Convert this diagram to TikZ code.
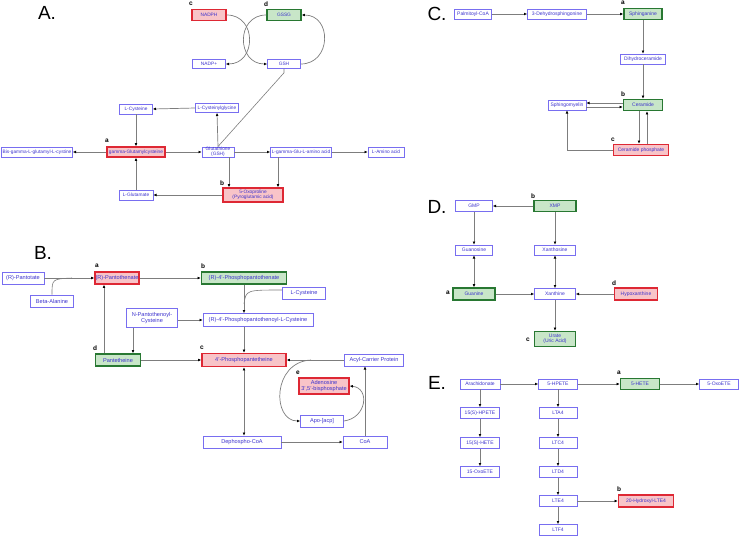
\documentclass[tikz,border=0pt]{standalone}
\usepackage{fontspec}
\setmainfont{Liberation Sans}
\usepackage{tikz}
\usetikzlibrary{arrows.meta,positioning}

\definecolor{boxblue}{RGB}{120,110,240}
\definecolor{txtblue}{RGB}{60,50,205}
\definecolor{boxred}{RGB}{222,40,52}
\definecolor{fillred}{RGB}{248,196,200}
\definecolor{boxgreen}{RGB}{40,120,50}
\definecolor{fillgreen}{RGB}{200,230,200}
\definecolor{linegray}{RGB}{125,125,125}

\begin{document}
\begin{tikzpicture}[x=1pt, y=-1pt, >=stealth,
  met/.style={draw=boxblue, text=txtblue, line width=0.6pt, inner sep=0.5pt,
    align=center, minimum height=10pt, font=\fontsize{5}{5.2}\selectfont},
  hired/.style={met, draw=boxred, fill=fillred, line width=1.4pt},
  higreen/.style={met, draw=boxgreen, fill=fillgreen, line width=1.4pt},
  flow/.style={draw=linegray, line width=0.7pt,
    -{Latex[length=3.2pt, width=2.8pt, color=black]}},
  both/.style={flow, {Latex[length=3.2pt, width=2.8pt, color=black]}-{Latex[length=3.2pt, width=2.8pt, color=black]}},
  link/.style={draw=linegray, line width=0.6pt},
  tag/.style={font=\bfseries\fontsize{6.5}{7}\selectfont, inner sep=0pt},
  panel/.style={font=\fontsize{19}{19}\selectfont, inner sep=0pt}]
  \useasboundingbox (0,0) rectangle (740,536);

  % Panel A: glutathione
  \begin{scope}[met/.append style={font=\fontsize{4.8}{4.9}\selectfont}]
  \node[panel] (labA) at (47,13) {A.};
  \node[hired, minimum width=34pt, minimum height=11pt] (nadph) at (209,15) {NADPH};
  \node[tag] (tagAc) at (191,4) {c};
  \node[higreen, minimum width=34pt, minimum height=11pt] (gssg) at (284,15) {GSSG};
  \node[tag] (tagAd) at (266,4) {d};
  \node[met, minimum width=33pt, minimum height=9pt] (nadpp) at (209,64) {NADP+};
  \node[met, minimum width=33pt, minimum height=9pt] (gshA) at (284,64) {GSH};
  \node[met, minimum width=43pt, minimum height=9pt] (cysgly) at (217,108) {L-Cysteinylglycine};
  \node[met, minimum width=33pt] (cysA) at (136,109) {L-Cysteine};
  \node[hired, minimum width=58pt] (gglucys) at (136,152) {gamma-Glutamylcysteine};
  \node[tag] (tagAa) at (107,141) {a};
  \node[met, minimum width=71pt] (bisglu) at (37,152) {Bis-gamma-L-glutamyl-L-cystine};
  \node[met, minimum width=32pt] (glutathione) at (218,152) {Glutathione\\(GSH)};
  \node[met, minimum width=61pt] (gluamino) at (301,152) {L-gamma-Glu-L-amino acid};
  \node[met, minimum width=36pt] (amino) at (386,152) {L-Amino acid};
  \node[hired, minimum width=60pt, minimum height=14pt] (oxo) at (253,195) {5-Oxoproline\\(Pyroglutamic acid)};
  \node[tag] (tagAb) at (222,183) {b};
  \node[met, minimum width=34pt] (glu) at (136,195) {L-Glutamate};
  \end{scope}

  \draw[flow] (nadph.east) to[out=0, in=0, looseness=1.6] (nadpp.east);
  \draw[flow] (gssg.west) to[out=180, in=180, looseness=1.6] (gshA.west);
  \draw[flow] (gshA.east) to[out=0, in=0, looseness=1.6] (gssg.east);
  \draw[link] (gshA.south) -- ++(0,4) -- (glutathione.north);
  \draw[flow] (cysgly.west) -- (cysA.east);
  \draw[flow] (cysA.south) -- (gglucys.north);
  \draw[flow] (glutathione.north) -- (cysgly.south);
  \draw[flow] (gglucys.west) -- (bisglu.east);
  \draw[flow] (gglucys.east) -- (glutathione.west);
  \draw[flow] (glutathione.east) -- (gluamino.west);
  \draw[flow] (gluamino.east) -- (amino.west);
  \draw[flow] ([xshift=11pt]glutathione.south) -- ([xshift=11pt]glutathione.south |- oxo.north);
  \draw[flow] ([xshift=-23pt]gluamino.south) -- ([xshift=-23pt]gluamino.south |- oxo.north);
  \draw[flow] (oxo.west) -- (glu.east);
  \draw[flow] (glu.north) -- (gglucys.south);

  % Panel B: pantothenate and CoA
  \begin{scope}[met/.append style={font=\fontsize{5.6}{5.9}\selectfont, minimum height=12pt}]
  \node[panel] (labB) at (43,253) {B.};
  \node[met, minimum width=42pt] (pantotate) at (23,278) {(R)-Pantotate};
  \node[met, minimum width=43pt] (betaala) at (52,301) {Beta-Alanine};
  \node[hired, minimum width=44pt] (pantothenate) at (117,278) {(R)-Pantothenate};
  \node[tag] (tagBa) at (97,266) {a};
  \node[higreen, minimum width=85pt] (ppantothenate) at (244,278) {(R)-4'-Phosphopantothenate};
  \node[tag] (tagBb) at (203,266) {b};
  \node[met, minimum width=43pt] (cysB) at (304,293) {L-Cysteine};
  \node[met, minimum width=110pt, minimum height=13pt] (ppc) at (258,320) {(R)-4'-Phosphopantothenoyl-L-Cysteine};
  \node[met, minimum width=51pt, minimum height=19pt] (npc) at (152,318) {N-Pantothenoyl-\\Cysteine};
  \node[higreen, minimum width=45pt] (pantetheine) at (118,360) {Pantetheine};
  \node[tag] (tagBd) at (95,348) {d};
  \node[hired, minimum width=84pt, minimum height=13pt] (ppanteth) at (244,360) {4'-Phosphopantetheine};
  \node[tag] (tagBc) at (202,348) {c};
  \node[met, minimum width=59pt] (acp) at (374,360) {Acyl-Carrier Protein};
  \node[hired, minimum width=50pt, minimum height=16pt] (adp) at (324,386) {Adenosine\\3',5'-bisphosphate};
  \node[tag] (tagBe) at (298,373) {e};
  \node[met, minimum width=43pt] (apo) at (322,421) {Apo-[acp]};
  \node[met, minimum width=44pt] (coa) at (365,442) {CoA};
  \node[met, minimum width=78pt] (dpcoa) at (242,442) {Dephospho-CoA};
  \end{scope}

  \coordinate (alajoin) at (72,278);
  \coordinate (cysjoin) at (244,304);
  \coordinate (acpsplit) at (311,360);
  \draw[flow] (pantotate.east) -- (pantothenate.west);
  \draw[link] (betaala.north) .. controls (52,279) .. (alajoin);
  \draw[flow] (pantothenate.east) -- (ppantothenate.west);
  \draw[flow] (ppantothenate.south) -- (ppantothenate.south |- ppc.north);
  \draw[link] ([yshift=3pt]cysB.west) .. controls (246,290) .. (cysjoin);
  \draw[flow] (npc.east |- ppc.west) -- (ppc.west);
  \draw[flow] ([xshift=15pt]pantetheine.north |- npc.south) -- ([xshift=15pt]pantetheine.north);
  \draw[flow] ([xshift=-14pt]pantetheine.north) -- ([xshift=-14pt]pantetheine.north |- pantothenate.south);
  \draw[flow] (pantetheine.east) -- (ppanteth.west);
  \draw[flow] (ppc.south -| ppanteth.north) -- (ppanteth.north);
  \draw[flow] (acp.west) -- (ppanteth.east);
  \draw[flow] (acpsplit) .. controls (272,362) and (272,421) .. (apo.west);
  \draw[both] (ppanteth.south) -- (ppanteth.south |- dpcoa.north);
  \draw[flow] (dpcoa.east) -- (coa.west);
  \draw[flow] (coa.north) -- (coa.north |- acp.south);
  \draw[flow] (apo.east) .. controls (367,418) and (370,388) .. (adp.east);

  % Panel C: sphingolipids
  \node[panel] (labC) at (437,14) {C.};
  \node[met, minimum width=37pt] (palm) at (473,14) {Palmitoyl-CoA};
  \node[met, minimum width=59pt] (dehyd) at (557,14) {3-Dehydrosphingonine};
  \node[higreen, minimum width=38pt, minimum height=11pt] (sphinga) at (643,14) {Sphinganine};
  \node[tag] (tagCa) at (623,3) {a};
  \node[met, minimum width=45pt] (dihyd) at (643,59) {Dihydroceramide};
  \node[higreen, minimum width=39pt, minimum height=11pt] (cer) at (643,105) {Ceramide};
  \node[tag] (tagCb) at (623,94) {b};
  \node[met, minimum width=38pt] (sphingo) at (567,105) {Sphingomyelin};
  \node[hired, minimum width=55pt, minimum height=11pt] (cerp) at (641,150) {Ceramide phosphate};
  \node[tag] (tagCc) at (613,140) {c};

  \draw[flow] (palm.east) -- (dehyd.west);
  \draw[flow] (dehyd.east) -- (sphinga.west);
  \draw[flow] (sphinga.south) -- (dihyd.north);
  \draw[flow] (dihyd.south) -- (cer.north);
  \draw[flow] ([yshift=2pt]cer.west) -- ([yshift=2pt]cer.west -| sphingo.east);
  \draw[flow] ([yshift=-2pt]cer.west -| sphingo.east) -- ([yshift=-2pt]cer.west);
  \draw[flow] ([xshift=-4pt]cer.south) -- ([xshift=-4pt]cer.south |- cerp.north);
  \draw[flow] ([xshift=4pt]cer.south |- cerp.north) -- ([xshift=4pt]cer.south);
  \draw[flow] (cerp.west) -| (sphingo.south);

  % Panel D: purines
  \node[panel] (labD) at (437,207) {D.};
  \node[met, minimum width=37pt, minimum height=11pt] (gmp) at (474,206) {GMP};
  \node[higreen, minimum width=42pt, minimum height=11pt] (xmp) at (555,206) {XMP};
  \node[tag] (tagDb) at (533,196) {b};
  \node[met, minimum width=37pt] (guanosine) at (474,250) {Guanosine};
  \node[met, minimum width=41pt] (xanthosine) at (555,250) {Xanthosine};
  \node[higreen, minimum width=42pt, minimum height=12pt] (guanine) at (474,294) {Guanine};
  \node[tag] (tagDa) at (448,293) {a};
  \node[met, minimum width=41pt, minimum height=11pt] (xanthine) at (555,294) {Xanthine};
  \node[hired, minimum width=43pt, minimum height=12pt] (hypox) at (636,294) {Hypoxanthine};
  \node[tag] (tagDd) at (614,283) {d};
  \node[higreen, minimum width=41pt, minimum height=15pt] (urate) at (555,339) {Urate\\(Uric Acid)};
  \node[tag] (tagDc) at (528,340) {c};

  \draw[flow] (xmp.west) -- (gmp.east);
  \draw[flow] (gmp.south) -- (guanosine.north);
  \draw[flow] (xmp.south) -- (xanthosine.north);
  \draw[both] (guanosine.south) -- (guanine.north);
  \draw[both] (xanthosine.south) -- (xanthine.north);
  \draw[flow] (guanine.east) -- (xanthine.west);
  \draw[flow] (hypox.west) -- (xanthine.east);
  \draw[flow] (xanthine.south) -- (urate.north);

  % Panel E: eicosanoids
  \node[panel] (labE) at (437,383) {E.};
  \node[met, minimum width=40pt] (arach) at (480,384) {Arachidonate};
  \node[met, minimum width=39pt] (hpete5) at (558,384) {5-HPETE};
  \node[higreen, minimum width=39pt, minimum height=11pt] (hete5) at (640,384) {5-HETE};
  \node[tag] (tagEa) at (619,373) {a};
  \node[met, minimum width=39pt] (oxoete5) at (719,384) {5-OxoETE};
  \node[met, minimum width=39pt, minimum height=11pt] (hpete15) at (480,413) {15(S)-HPETE};
  \node[met, minimum width=39pt, minimum height=11pt] (hete15) at (480,443) {15(S)-HETE};
  \node[met, minimum width=39pt, minimum height=11pt] (oxoete15) at (480,472) {15-OxoETE};
  \node[met, minimum width=38pt, minimum height=11pt] (lta4) at (558,413) {LTA4};
  \node[met, minimum width=38pt, minimum height=11pt] (ltc4) at (558,443) {LTC4};
  \node[met, minimum width=38pt, minimum height=11pt] (ltd4) at (558,472) {LTD4};
  \node[met, minimum width=38pt, minimum height=11pt] (lte4) at (558,501) {LTE4};
  \node[met, minimum width=38pt, minimum height=11pt] (ltf4) at (558,530) {LTF4};
  \node[hired, minimum width=55pt, minimum height=12pt] (hlte4) at (646,501) {20-Hydroxyl-LTE4};
  \node[tag] (tagEb) at (619,489) {b};

  \draw[flow] (arach.east) -- (hpete5.west);
  \draw[flow] (hpete5.east) -- (hete5.west);
  \draw[flow] (hete5.east) -- (oxoete5.west);
  \draw[flow] (arach.south) -- (hpete15.north);
  \draw[flow] (hpete15.south) -- (hete15.north);
  \draw[flow] (hete15.south) -- (oxoete15.north);
  \draw[flow] (hpete5.south) -- (lta4.north);
  \draw[flow] (lta4.south) -- (ltc4.north);
  \draw[flow] (ltc4.south) -- (ltd4.north);
  \draw[flow] (ltd4.south) -- (lte4.north);
  \draw[flow] (lte4.south) -- (ltf4.north);
  \draw[flow] (lte4.east) -- (hlte4.west);
\end{tikzpicture}
\end{document}
